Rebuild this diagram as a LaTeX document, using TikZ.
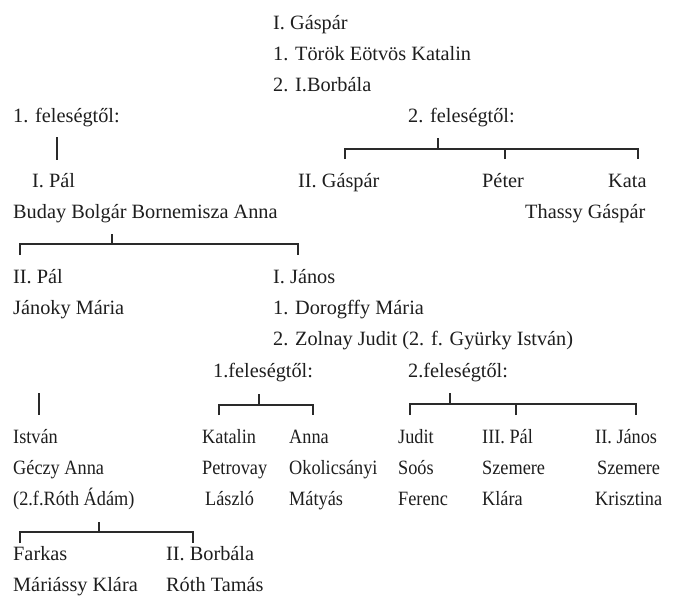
\documentclass[tikz,border=0pt]{standalone}
\usepackage{fontspec}
\setmainfont{Liberation Serif}
\newfontfamily\narrowfont[FakeStretch=0.9]{Liberation Serif}
\definecolor{ink}{HTML}{1E1E1E}
\definecolor{wire}{HTML}{2A2A2A}
\tikzset{
  txt/.style={anchor=base west, inner sep=0pt, text=ink, font=\fontsize{20.3}{24}\selectfont},
  ntxt/.style={anchor=base west, inner sep=0pt, text=ink, font=\narrowfont\fontsize{20.3}{24}\selectfont},
  conn/.style={draw=wire, line width=1.3pt}
}
\begin{document}
\begin{tikzpicture}[x=1pt, y=-1pt]
\fill[white] (0,0) rectangle (678,605);
\useasboundingbox (0,0) rectangle (678,605);

% top
\node[txt] (g1) at (273,29) {I. Gáspár};
\node[txt] (w1) at (273,60) {1. Török Eötvös Katalin};
\node[txt] (w2) at (273,91) {2. I.Borbála};
\node[txt] (f1) at (13,122) {1. feleségtől:};
\node[txt] (f2) at (408,122) {2. feleségtől:};

\node[txt] (pal1) at (32,187) {I. Pál};
\node[txt] (gasp2) at (298,187) {II. Gáspár};
\node[txt] (peter) at (482,187) {Péter};
\node[txt] (kata) at (608,187) {Kata};
\node[txt] (buday) at (13,218) {Buday Bolgár Bornemisza Anna};
\node[txt] (thassy) at (525,218) {Thassy Gáspár};

\node[txt] (pal2) at (13,283) {II. Pál};
\node[txt] (janos1) at (273,283) {I. János};
\node[txt] (janoky) at (13,314) {Jánoky Mária};
\node[txt] (dorog) at (273,314) {1. Dorogffy Mária};
\node[txt] (zolnay) at (273,345) {2. Zolnay Judit (2. f. Gyürky István)};
\node[txt] (f3) at (213,377) {1.feleségtől:};
\node[txt] (f4) at (408,377) {2.feleségtől:};

\node[ntxt] (istvan) at (13,443) {István};
\node[ntxt] (katalin) at (202,443) {Katalin};
\node[ntxt] (anna) at (289,443) {Anna};
\node[ntxt] (judit) at (398,443) {Judit};
\node[ntxt] (pal3) at (482,443) {III. Pál};
\node[ntxt] (janos2) at (595,443) {II. János};

\node[ntxt] (geczy) at (13,474) {Géczy Anna};
\node[ntxt] (petrovay) at (202,474) {Petrovay};
\node[ntxt] (okol) at (289,474) {Okolicsányi};
\node[ntxt] (soos) at (398,474) {Soós};
\node[ntxt] (szem1) at (482,474) {Szemere};
\node[ntxt] (szem2) at (597,474) {Szemere};

\node[ntxt] (roth) at (13,505) {(2.f.Róth Ádám)};
\node[ntxt] (laszlo) at (205,505) {László};
\node[ntxt] (matyas) at (289,505) {Mátyás};
\node[ntxt] (ferenc) at (398,505) {Ferenc};
\node[ntxt] (klara) at (482,505) {Klára};
\node[ntxt] (kriszt) at (595,505) {Krisztina};

\node[txt] (farkas) at (13,560) {Farkas};
\node[txt] (borb2) at (166,560) {II. Borbála};
\node[txt] (mariassy) at (13,591) {Máriássy Klára};
\node[txt] (rotht) at (166,591) {Róth Tamás};

% connectors
\coordinate (l1t) at (57,137); \coordinate (l1b) at (57,160);
\draw[conn] (l1t) -- (l1b);

\coordinate (b1t) at (438,138);
\coordinate (b1l) at (345,149); \coordinate (b1r) at (638,149);
\coordinate (b1a) at (345,159); \coordinate (b1b) at (505,159); \coordinate (b1c) at (638,159);
\draw[conn] (b1a) -- (b1l) -- (b1r) -- (b1c);
\draw[conn] (b1t) -- (b1t |- b1l);
\draw[conn] (b1b) -- (b1b |- b1l);

\coordinate (b2t) at (112,234);
\coordinate (b2l) at (20,244); \coordinate (b2r) at (298,244);
\coordinate (b2a) at (20,255); \coordinate (b2b) at (298,255);
\draw[conn] (b2a) -- (b2l) -- (b2r) -- (b2b);
\draw[conn] (b2t) -- (b2t |- b2l);

\coordinate (l2t) at (39,393); \coordinate (l2b) at (39,415);
\draw[conn] (l2t) -- (l2b);

\coordinate (b3t) at (259,394);
\coordinate (b3l) at (219,405); \coordinate (b3r) at (313,405);
\coordinate (b3a) at (219,415); \coordinate (b3b) at (313,415);
\draw[conn] (b3a) -- (b3l) -- (b3r) -- (b3b);
\draw[conn] (b3t) -- (b3t |- b3l);

\coordinate (b4t) at (450,393);
\coordinate (b4l) at (410,404); \coordinate (b4r) at (636,404);
\coordinate (b4a) at (410,415); \coordinate (b4b) at (516,415); \coordinate (b4c) at (636,415);
\draw[conn] (b4a) -- (b4l) -- (b4r) -- (b4c);
\draw[conn] (b4t) -- (b4t |- b4l);
\draw[conn] (b4b) -- (b4b |- b4l);

\coordinate (b5t) at (99,522);
\coordinate (b5l) at (20,532); \coordinate (b5r) at (193,532);
\coordinate (b5a) at (20,543); \coordinate (b5b) at (193,543);
\draw[conn] (b5a) -- (b5l) -- (b5r) -- (b5b);
\draw[conn] (b5t) -- (b5t |- b5l);
\end{tikzpicture}
\end{document}
